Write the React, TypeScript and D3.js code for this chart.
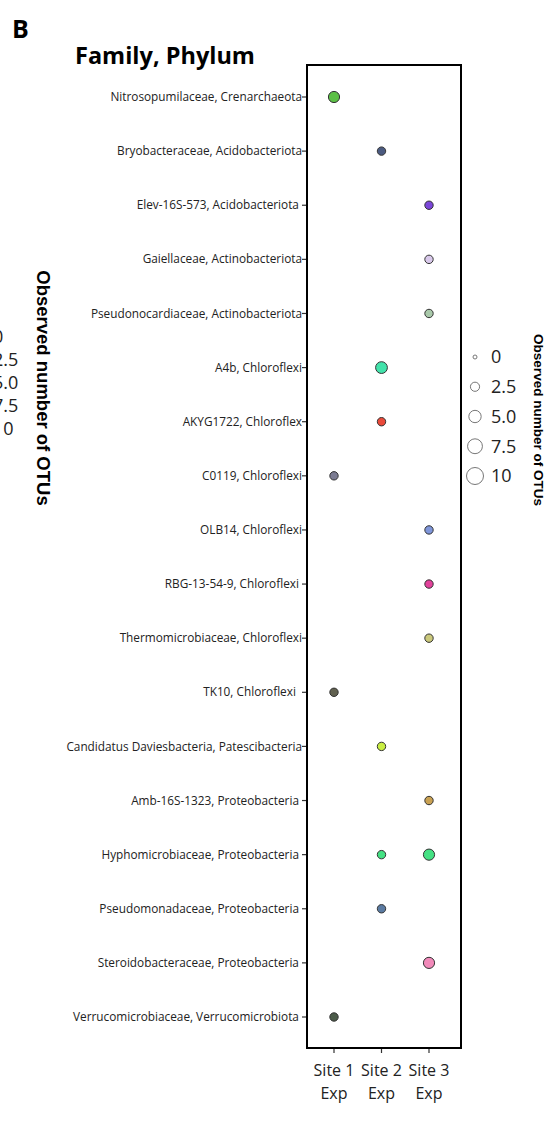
import React from "react";
import * as d3 from "d3";

const categories = [
  "Nitrosopumilaceae, Crenarchaeota",
  "Bryobacteraceae, Acidobacteriota",
  "Elev-16S-573, Acidobacteriota ",
  "Gaiellaceae, Actinobacteriota",
  "Pseudonocardiaceae, Actinobacteriota",
  "A4b, Chloroflexi",
  "AKYG1722, Chloroflex",
  "C0119, Chloroflexi",
  "OLB14, Chloroflexi",
  "RBG-13-54-9, Chloroflexi ",
  "Thermomicrobiaceae, Chloroflexi",
  "TK10, Chloroflexi  ",
  "Candidatus Daviesbacteria, Patescibacteria",
  "Amb-16S-1323, Proteobacteria ",
  "Hyphomicrobiaceae, Proteobacteria ",
  "Pseudomonadaceae, Proteobacteria ",
  "Steroidobacteraceae, Proteobacteria ",
  "Verrucomicrobiaceae, Verrucomicrobiota ",
];

const sites = ["Site 1", "Site 2", "Site 3"];
const siteSub = ["Exp", "Exp", "Exp"];

// [category index, site index, observed OTUs, fill colour]
const points: [number, number, number, string][] = [
  [0, 0, 4, "#5cc046"],
  [1, 1, 2, "#4b5a80"],
  [2, 2, 2, "#7b46d9"],
  [3, 2, 2, "#d9c9eb"],
  [4, 2, 2, "#a9c9aa"],
  [5, 1, 4.5, "#42e3ab"],
  [6, 1, 2, "#ea4a3a"],
  [7, 0, 2, "#7b7b92"],
  [8, 2, 2, "#7f96da"],
  [9, 2, 2, "#e2419b"],
  [10, 2, 2, "#cbc97c"],
  [11, 0, 2, "#60604f"],
  [12, 1, 2, "#c9ee42"],
  [13, 2, 2, "#c9a152"],
  [14, 1, 2, "#44e183"],
  [14, 2, 4, "#44e183"],
  [15, 1, 2, "#5b7ba2"],
  [16, 2, 4, "#f28aba"],
  [17, 0, 2, "#4b5b49"],
];

const legendValues = [0, 2.5, 5.0, 7.5, 10];
const legendLabels = ["0", "2.5", "5.0", "7.5", "10"];

export default function App() {
  const W = 556;
  const H = 1131;
  const box = { l: 307, r: 461, t: 65, b: 1048 };

  const y = d3.scalePoint<string>().domain(categories).range([97, 1017]);
  const x = d3.scalePoint<string>().domain(sites).range([334, 429]);
  const r = d3.scaleRadial().domain([0, 10]).range([2, 8.5]);
  const ly = d3.scaleLinear().domain([0, 4]).range([357, 476]);
  const lyLeft = d3.scaleLinear().domain([0, 4]).range([337, 429]);

  const labelFont = "'Open Sans', sans-serif";

  return (
    <svg
      width={W}
      height={H}
      style={{ position: "absolute", left: 0, top: 0, background: "#fff" }}
      fontFamily={labelFont}
    >
      <rect x={0} y={0} width={W} height={H} fill="#fff" />
      <text x={12} y={38} fontSize={25} fontWeight="bold" fill="#000">
        B
      </text>
      <text x={75} y={64} fontSize={23.5} fontWeight="bold" fill="#000">
        Family, Phylum
      </text>

      {/* cut-off legend from neighbouring panel */}
      {legendLabels.map((t, i) => (
        <text
          key={"ll" + i}
          x={-7}
          y={lyLeft(i)}
          dy="0.35em"
          fontSize={18}
          fill="#222"
        >
          {t}
        </text>
      ))}
      <text
        transform={`translate(37,388) rotate(90)`}
        textAnchor="middle"
        fontSize={18.5}
        fontWeight="bold"
        fontFamily="'Liberation Sans', Arial, sans-serif"
        fill="#000"
      >
        Observed number of OTUs
      </text>

      {/* y ticks and labels */}
      {categories.map((c) => (
        <g key={c}>
          <line x1={box.l - 5} x2={box.l} y1={y(c)} y2={y(c)} stroke="#333" strokeWidth={1.2} />
          <text
            x={box.l - 5}
            y={y(c)}
            dy="0.35em"
            textAnchor="end"
            fontSize={11.8}
            fill="#222"
            style={{ whiteSpace: "pre" }}
          >
            {c}
          </text>
        </g>
      ))}

      {/* x ticks and labels */}
      {sites.map((s, i) => (
        <g key={s}>
          <line x1={x(s)} x2={x(s)} y1={box.b} y2={box.b + 5} stroke="#333" strokeWidth={1.2} />
          <text x={x(s)} y={1076} textAnchor="middle" fontSize={16} fill="#222">
            {s}
          </text>
          <text x={x(s)} y={1099} textAnchor="middle" fontSize={16} fill="#222">
            {siteSub[i]}
          </text>
        </g>
      ))}

      {/* points */}
      {points.map(([ci, si, v, col], i) => (
        <circle
          key={"p" + i}
          cx={x(sites[si])}
          cy={y(categories[ci])}
          r={r(v)}
          fill={col}
          stroke="#333"
          strokeWidth={1}
        />
      ))}

      {/* panel box */}
      <rect
        x={box.l}
        y={box.t}
        width={box.r - box.l}
        height={box.b - box.t}
        fill="none"
        stroke="#000"
        strokeWidth={2}
      />

      {/* size legend */}
      {legendValues.map((v, i) => (
        <g key={"lg" + i}>
          <circle cx={475} cy={ly(i)} r={r(v)} fill="none" stroke="#777" strokeWidth={1} />
          <text x={491} y={ly(i)} dy="0.35em" fontSize={18} fill="#222">
            {legendLabels[i]}
          </text>
        </g>
      ))}
      <text
        transform={`translate(534,420) rotate(90)`}
        textAnchor="middle"
        fontSize={13.5}
        fontWeight="bold"
        fontFamily="'Liberation Sans', Arial, sans-serif"
        fill="#000"
      >
        Observed number of OTUs
      </text>
    </svg>
  );
}
